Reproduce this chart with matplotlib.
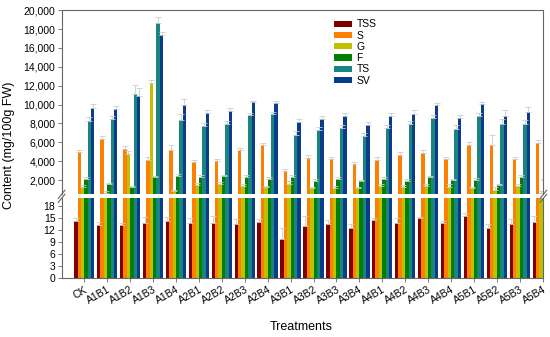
import numpy as np
import matplotlib
matplotlib.use("Agg")
import matplotlib.pyplot as plt
from matplotlib.ticker import FuncFormatter

plt.rcParams["font.family"] = ["Liberation Sans", "DejaVu Sans"]

# data
treatments = ["CK", "A1B1", "A1B2", "A1B3", "A1B4", "A2B1", "A2B2", "A2B3", "A2B4",
              "A3B1", "A3B2", "A3B3", "A3B4", "A4B1", "A4B2", "A4B3", "A4B4",
              "A5B1", "A5B2", "A5B3", "A5B4"]

tss = [14.3, 13.4, 13.3, 13.8, 14.3, 13.9, 13.8, 13.5, 14.1, 9.9, 13.0, 13.5, 12.7,
       14.7, 13.9, 15.0, 13.8, 15.6, 12.7, 13.6, 14.2]
s = [4950, 6400, 5300, 4180, 5200, 3970, 4040, 5240, 5730, 2950, 4340, 4250, 3720,
     4100, 4700, 4900, 4220, 5690, 5740, 4220, 5940]
g = [1300, 670, 4740, 12330, 800, 1440, 1545, 1400, 1230, 1630, 1125, 1195, 1125,
     1335, 1230, 1370, 1300, 1125, 950, 1370, 680]
f = [2145, 1580, 1230, 2280, 2420, 2355, 2420, 2355, 2145, 2355, 1935, 2145, 1895,
     2145, 1935, 2320, 1970, 2040, 1470, 2355, 2000]
ts = [8300, 8500, 11170, 18660, 8400, 7700, 7980, 8850, 8950, 6800, 7300, 7550, 6710,
      7550, 7920, 8530, 7430, 8840, 7940, 7920, 8000]
sv = [9630, 9490, 10900, 17330, 9950, 9100, 9350, 10220, 10160, 8160, 8440, 8840, 7850,
      8780, 9020, 9910, 8550, 10060, 8800, 9260, 9000]

tss_err = [0.7, 0.6, 0.6, 1.5, 1.0, 1.3, 1.9, 1.4, 0.8, 2.7, 2.6, 1.2, 0.9,
           0.5, 1.2, 0.4, 0.5, 0.7, 1.0, 1.3, 1.4]
s_err = [280, 250, 300, 250, 530, 200, 200, 200, 250, 250, 300, 250, 250,
         300, 300, 300, 250, 300, 1050, 250, 300]
g_err = [200, 150, 300, 280, 200, 250, 250, 200, 200, 250, 200, 200, 200,
         250, 250, 250, 250, 200, 300, 250, 150]
f_err = [150, 150, 150, 150, 200, 150, 150, 150, 150, 200, 150, 150, 150,
         150, 150, 150, 150, 150, 150, 200, 150]
ts_err = [350, 300, 880, 570, 630, 300, 300, 300, 300, 400, 300, 300, 300,
          300, 350, 400, 400, 300, 500, 400, 400]
sv_err = [420, 350, 850, 350, 630, 350, 300, 200, 250, 300, 300, 300, 300,
          350, 450, 300, 300, 250, 650, 500, 400]

names = ["TSS", "S", "G", "F", "TS", "SV"]
colors = ["#800000", "#ff8000", "#c0c000", "#008000", "#1a8480", "#0a3c8c"]
series = [tss, s, g, f, ts, sv]
errors = [tss_err, s_err, g_err, f_err, ts_err, sv_err]

fig = plt.figure(figsize=(5.5, 3.37), dpi=100)
ax_top = fig.add_axes([0.112, 0.4234, 0.876, 0.5466])
ax_bot = fig.add_axes([0.112, 0.174, 0.876, 0.2376])

x = np.arange(len(treatments))
w = 0.148
for ax in (ax_top, ax_bot):
    for i, (vals, err, c, name) in enumerate(zip(series, errors, colors, names)):
        ax.bar(x + (i - 2.5) * w, vals, w, color=c, label=name,
               yerr=[np.zeros(len(err)), err],
               error_kw=dict(ecolor="#cccccc", elinewidth=0.6, capsize=2, capthick=0.6))
    ax.set_xlim(-0.99, 20.03)
    for sp in ax.spines.values():
        sp.set_color("#666666")
        sp.set_linewidth(0.8)
    ax.tick_params(labelsize=7.5, length=3, width=0.6, color="#666666", pad=1.5)

ax_top.set_ylim(500, 20000)
ax_top.set_yticks(np.arange(2000, 20001, 2000))
ax_top.yaxis.set_major_formatter(FuncFormatter(lambda v, p: f"{int(v):,}"))
ax_top.spines["bottom"].set_visible(False)
ax_top.set_xticks([])

ax_bot.set_ylim(0, 20)
ax_bot.set_yticks(np.arange(0, 19, 3))
ax_bot.spines["top"].set_visible(False)
ax_bot.set_xticks(x)
ax_bot.set_xticklabels(treatments, rotation=30, ha="right", rotation_mode="anchor")

# break marks
d = 0.006
for xp in (0.112, 0.988):
    for yp in (0.4234, 0.4116):
        fig.add_artist(plt.Line2D([xp - d, xp + d], [yp - 0.012, yp + 0.012],
                                  color="#666666", lw=0.8))

handles, labels = ax_top.get_legend_handles_labels()
fig.legend(handles, labels, loc="upper left", bbox_to_anchor=(0.598, 0.958),
           frameon=False, fontsize=7.5, handlelength=1.75, handleheight=0.55,
           labelspacing=0.12, handletextpad=0.4, borderpad=0)

fig.text(0.016, 0.57, "Content (mg/100g FW)", rotation=90, va="center", ha="center", fontsize=9)
fig.text(0.548, 0.03, "Treatments", ha="center", va="center", fontsize=9)

fig.savefig("out.png", dpi=100)
